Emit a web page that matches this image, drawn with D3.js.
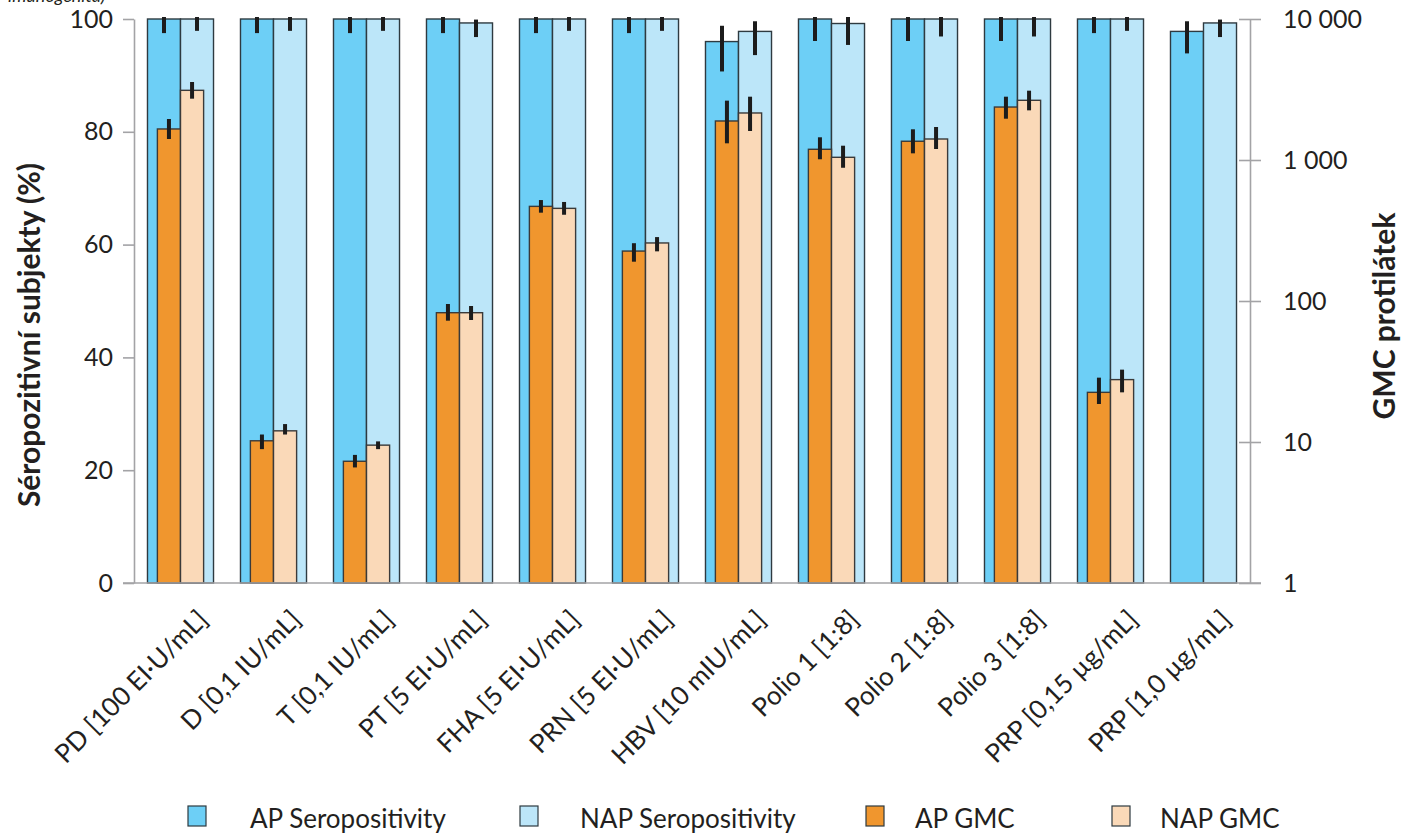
<!DOCTYPE html>
<html>
  <head>
    <meta charset="utf-8">
    <title>Séropozitivita a GMC</title>
    <script src="https://cdn.jsdelivr.net/npm/d3@7"></script>
    <style>
      body { margin: 0; background: #fff; }
      text { font-family: Lato, "Open Sans", sans-serif; fill: #231f20; }
    </style>
  </head>
  <body>
    <svg id="chart"></svg>
    <script>
// categories and values
let categories = ['PD [100 EI·U/mL]', 'D [0,1 IU/mL]', 'T [0,1 IU/mL]', 'PT [5 EI·U/mL]',
  'FHA [5 EI·U/mL]', 'PRN [5 EI·U/mL]', 'HBV [10 mIU/mL]', 'Polio 1 [1:8]',
  'Polio 2 [1:8]', 'Polio 3 [1:8]', 'PRP [0,15 µg/mL]', 'PRP [1,0 µg/mL]'];

// seropositivity (%), left axis
let apSero    = [100, 100, 100, 100, 100, 100, 96.0, 100, 100, 100, 100, 97.8];
let apSeroLo  = [97.5, 97.5, 97.5, 97.5, 97.5, 97.5, 90.7, 96.1, 96.1, 96.1, 97.5, 93.9];
let apSeroHi  = [100.35, 100.35, 100.35, 100.35, 100.35, 100.35, 98.8, 100.35, 100.35, 100.35, 100.35, 99.6];
let napSero   = [100, 100, 100, 99.3, 100, 100, 97.8, 99.2, 100, 100, 100, 99.3];
let napSeroLo = [97.9, 97.9, 97.9, 96.8, 97.9, 97.9, 93.6, 95.4, 96.9, 96.9, 97.9, 96.8];
let napSeroHi = [100.35, 100.35, 100.35, 99.9, 100.35, 100.35, 99.6, 100.35, 100.35, 100.35, 100.35, 99.9];

// GMC, right axis (log), no GMC for PRP [1,0]
let apGmc    = [1660, 10.2, 7.3, 82.6, 469, 226, 1891, 1191, 1358, 2375, 22.5, null];
let apGmcLo  = [1409, 8.9, 6.6, 72.5, 423, 190, 1313, 1012, 1115, 1963, 18.6, null];
let apGmcHi  = [1954, 11.3, 8.1, 95.2, 520, 257, 2636, 1449, 1651, 2812, 28.6, null];
let napGmc   = [3120, 12.0, 9.5, 82.6, 454, 258, 2155, 1045, 1409, 2651, 27.7, null];
let napGmcLo = [2722, 11.3, 8.9, 73.3, 409, 225, 1606, 881, 1197, 2250, 22.5, null];
let napGmcHi = [3574, 13.4, 10.1, 92.2, 504, 284, 2812, 1263, 1714, 3102, 32.6, null];

let leftTicks = [0, 20, 40, 60, 80, 100];
let rightTicks = [1, 10, 100, 1000, 10000];

let legendLabels = ['AP Seropositivity', 'NAP Seropositivity', 'AP GMC', 'NAP GMC'];
let colors = ['#6dcff6', '#bce6f9', '#f0962e', '#fad9b8'];

let width = 1403, height = 834;
let plotLeft = 134, plotRight = 1250, plotTop = 19, plotBottom = 583;

let svg = d3.select('#chart')
  .attr('width', width)
  .attr('height', height);

let x = d3.scaleBand()
  .domain(categories)
  .range([plotLeft, plotRight])
  .paddingInner(0.29)
  .paddingOuter(0.145);

let bw = x.bandwidth();
let xSero = d3.scaleBand().domain(['AP', 'NAP']).range([0, bw]);
let xGmc = d3.scaleBand().domain(['AP', 'NAP']).range([bw * 0.15, bw * 0.85]);

let y = d3.scaleLinear().domain([0, 100]).range([plotBottom, plotTop]);
let y2 = d3.scaleLog().domain([1, 10000]).range([plotBottom, plotTop]);

// rows for each series
function rows(vals, lo, hi, key) {
  return categories.map((c, i) => ({cat: c, key: key, v: vals[i], lo: lo[i], hi: hi[i]}))
    .filter(d => d.v != null);
}
let seroRows = rows(apSero, apSeroLo, apSeroHi, 'AP')
  .concat(rows(napSero, napSeroLo, napSeroHi, 'NAP'));
let gmcRows = rows(apGmc, apGmcLo, apGmcHi, 'AP')
  .concat(rows(napGmc, napGmcLo, napGmcHi, 'NAP'));

// seropositivity bars
svg.append('g')
  .selectAll('rect')
  .data(seroRows)
  .enter()
  .append('rect')
  .attr('x', d => x(d.cat) + xSero(d.key))
  .attr('width', xSero.bandwidth())
  .attr('y', d => y(d.v))
  .attr('height', d => y(0) - y(d.v))
  .attr('fill', d => d.key === 'AP' ? colors[0] : colors[1])
  .attr('stroke', '#2e3a40')
  .attr('stroke-width', 1.4);

svg.append('g')
  .selectAll('line')
  .data(seroRows)
  .enter()
  .append('line')
  .attr('x1', d => x(d.cat) + xSero(d.key) + xSero.bandwidth() / 2)
  .attr('x2', d => x(d.cat) + xSero(d.key) + xSero.bandwidth() / 2)
  .attr('y1', d => y(d.hi))
  .attr('y2', d => y(d.lo))
  .attr('stroke', '#1c1c1c')
  .attr('stroke-width', 4);

// GMC bars
svg.append('g')
  .selectAll('rect')
  .data(gmcRows)
  .enter()
  .append('rect')
  .attr('x', d => x(d.cat) + xGmc(d.key))
  .attr('width', xGmc.bandwidth())
  .attr('y', d => y2(d.v))
  .attr('height', d => y2(1) - y2(d.v))
  .attr('fill', d => d.key === 'AP' ? colors[2] : colors[3])
  .attr('stroke', '#3a3a3a')
  .attr('stroke-width', 1.4);

svg.append('g')
  .selectAll('line')
  .data(gmcRows)
  .enter()
  .append('line')
  .attr('x1', d => x(d.cat) + xGmc(d.key) + xGmc.bandwidth() / 2)
  .attr('x2', d => x(d.cat) + xGmc(d.key) + xGmc.bandwidth() / 2)
  .attr('y1', d => y2(d.hi))
  .attr('y2', d => y2(d.lo))
  .attr('stroke', '#1c1c1c')
  .attr('stroke-width', 4);

// axes
let axisColor = '#a3a3a6';

let gLeft = svg.append('g')
  .attr('transform', 'translate(' + plotLeft + ',0)')
  .call(d3.axisLeft(y).tickValues(leftTicks).tickSize(11).tickPadding(10).tickSizeOuter(0));

let locale = d3.formatLocale({decimal: ',', thousands: ' ', grouping: [3], currency: ['', '']});
let gRight = svg.append('g')
  .attr('transform', 'translate(' + plotRight + ',0)')
  .call(d3.axisRight(y2).tickValues(rightTicks).tickFormat(locale.format(',d'))
    .tickSize(11).tickPadding(22).tickSizeOuter(0));
gRight.selectAll('.tick line').attr('x1', -11);

[gLeft, gRight].forEach(g => {
  g.select('.domain').attr('stroke', axisColor).attr('stroke-width', 1.6);
  g.selectAll('.tick line').attr('stroke', axisColor).attr('stroke-width', 1.6);
  g.selectAll('.tick text')
    .attr('font-size', 25)
    .style('font-family', 'Lato, sans-serif')
    .attr('fill', '#231f20');
});

// baseline
svg.append('line')
  .attr('x1', plotLeft - 11)
  .attr('x2', plotRight + 11)
  .attr('y1', y(0))
  .attr('y2', y(0))
  .attr('stroke', axisColor)
  .attr('stroke-width', 1.6);

// category labels
svg.append('g')
  .selectAll('text')
  .data(categories)
  .enter()
  .append('text')
  .attr('transform', d => 'translate(' + (x(d) + bw / 2 + 29) + ',' + 621 + ') rotate(-45)')
  .attr('text-anchor', 'end')
  .attr('font-size', 26)
  .text(d => d);

// axis titles
svg.append('text')
  .attr('transform', 'translate(40,335) rotate(-90)')
  .attr('text-anchor', 'middle')
  .attr('font-size', 30)
  .attr('font-weight', 'bold')
  .text('Séropozitivní subjekty (%)');

svg.append('text')
  .attr('transform', 'translate(1395,316) rotate(-90)')
  .attr('text-anchor', 'middle')
  .attr('font-size', 30)
  .attr('font-weight', 'bold')
  .text('GMC protilátek');

// cut-off note in the corner
svg.append('text')
  .attr('x', 8)
  .attr('y', 2)
  .attr('font-size', 18)
  .attr('font-style', 'italic')
  .text('imunogenita)');

// legend
let legendX = [188, 520, 866, 1112];
let textX = [250, 580, 915, 1160];
let legend = svg.append('g')
  .selectAll('g')
  .data(legendLabels)
  .enter()
  .append('g');

legend.append('rect')
  .attr('x', (d, i) => legendX[i])
  .attr('y', 806)
  .attr('width', 18)
  .attr('height', 20)
  .attr('fill', (d, i) => colors[i])
  .attr('stroke', '#2e3a40')
  .attr('stroke-width', 1.2);

legend.append('text')
  .attr('x', (d, i) => textX[i])
  .attr('y', 828)
  .attr('font-size', 26)
  .text(d => d);
    </script>
  </body>
</html>
